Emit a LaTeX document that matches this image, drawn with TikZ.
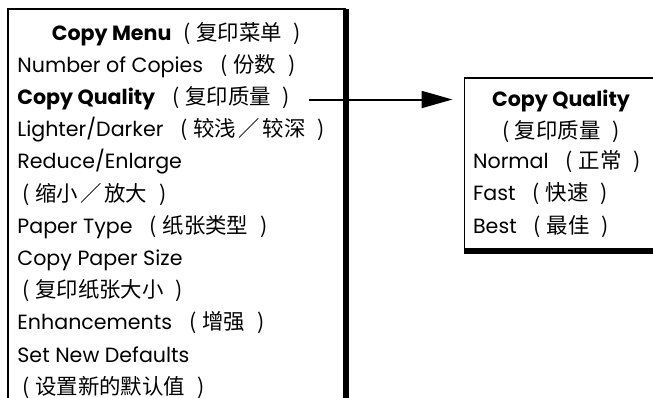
\documentclass[tikz,border=0pt]{standalone}
\usepackage{fontspec}
\setmainfont{Poppins}
\newfontfamily\cjk[Scale=1.04]{Noto Sans CJK SC}
\newcommand{\zhp}[2][8.6pt]{{\mdseries\cjk\hspace{#1}(\hspace{2.8pt}#2\hspace{6pt})}}
\newcommand{\zhsl}{\hspace{1.2pt}／\hspace{1.2pt}}
\usetikzlibrary{arrows.meta, positioning}

\begin{document}
\begin{tikzpicture}[
x=0.5pt, y=0.5pt,
font=\fontsize{10.3}{15.7}\selectfont,
row/.style={inner sep=0pt, text height=10.3pt, text depth=5.4pt},
heading/.style={row, font=\fontsize{10.3}{15.7}\selectfont\bfseries},
frame/.style={line width=0.7pt},
shadow/.style={line width=3pt},
arrow/.style={-{Triangle[length=15.5pt, width=8.5pt]}, line width=1pt}
]
\useasboundingbox (0,0) rectangle (653,-397);

% copy menu
\node[heading, anchor=base] (menu) at (176.5,-40.7) {Copy Menu\zhp[6pt]{复印菜单}};
\node[row, anchor=base west] (copies) at (17,-72.2) {Number of Copies\zhp{份数}};
\node[below=0pt of copies.south west, row, anchor=north west] (quality) {\bfseries Copy Quality\zhp{复印质量}};
\node[below=0pt of quality.south west, row, anchor=north west] (darker) {Lighter/Darker\zhp{较浅\zhsl 较深}};
\node[below=0pt of darker.south west, row, anchor=north west] (enlarge) {Reduce/Enlarge};
\node[below=0pt of enlarge.south west, row, anchor=north west] (enlargezh) {\zhp[2.5pt]{缩小\zhsl 放大}};
\node[below=0pt of enlargezh.south west, row, anchor=north west] (paper) {Paper Type\zhp{纸张类型}};
\node[below=0pt of paper.south west, row, anchor=north west] (size) {Copy Paper Size};
\node[below=0pt of size.south west, row, anchor=north west] (sizezh) {\zhp[2.5pt]{复印纸张大小}};
\node[below=0pt of sizezh.south west, row, anchor=north west] (enhance) {Enhancements\zhp{增强}};
\node[below=0pt of enhance.south west, row, anchor=north west] (defaults) {Set New Defaults};
\node[below=0pt of defaults.south west, row, anchor=north west] (defaultszh) {\zhp[2.5pt]{设置新的默认值}};

\draw[frame] (345.7,-9) -- (8,-9) -- (8,-405);
\draw[shadow] (345.7,-9) -- (345.7,-405);

% copy quality
\node[heading, anchor=base] (qtitle) at (561,-106.3) {Copy Quality};
\node[below=0pt of qtitle, row] (qsub) {\zhp[0pt]{复印质量}};
\node[row, anchor=base west] (normal) at (472.7,-168.7) {Normal\zhp{正常}};
\node[below=0pt of normal.south west, row, anchor=north west] (fast) {Fast\zhp{快速}};
\node[below=0pt of fast.south west, row, anchor=north west] (best) {Best\zhp{最佳}};

\coordinate (qcorner) at (464.5,-78);
\draw[frame] (665,-78) -- (qcorner) -- (464.5,-250.5);
\draw[shadow] (464,-250.5) -- (665,-250.5);

\draw[arrow, shorten <=9pt, shorten >=6pt] (quality.east) -- (quality.east -| qcorner);

\end{tikzpicture}
\end{document}
